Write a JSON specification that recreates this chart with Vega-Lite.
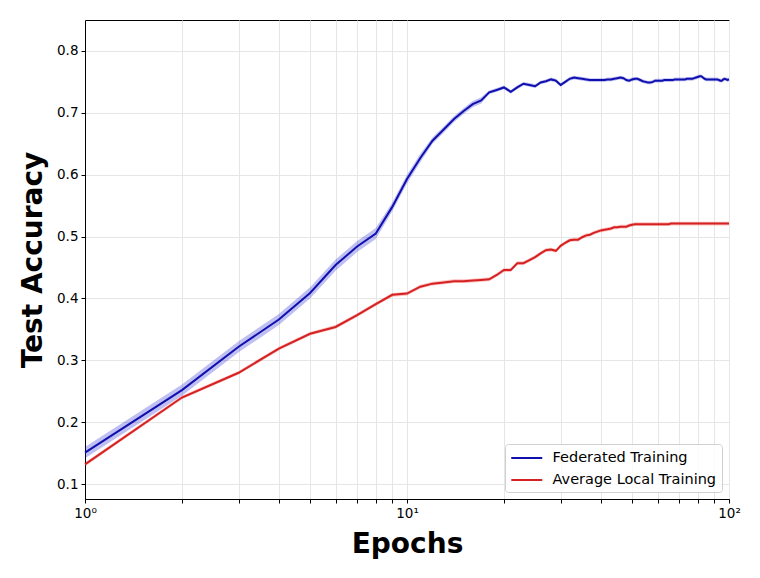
{
  "$schema": "https://vega.github.io/schema/vega-lite/v6.json",
  "autosize": {"type": "none"},
  "padding": {"left": 85, "top": 20, "right": 31, "bottom": 79},
  "width": 644,
  "height": 479,
  "background": "white",
  "config": {
    "view": {"stroke": "#000000", "strokeWidth": 1},
    "font": "DejaVu Sans",
    "axis": {
      "domainColor": "#000000",
      "tickColor": "#000000",
      "tickSize": 4,
      "labelColor": "#000000",
      "labelFont": "DejaVu Sans",
      "labelFontSize": 13.5,
      "titleFont": "DejaVu Sans",
      "titleFontSize": 28,
      "titleFontWeight": "bold",
      "titleColor": "#000000",
      "gridColor": "#e6e6e6",
      "gridWidth": 1
    }
  },
  "data": {
    "values": [
      {"e": 1, "f": 0.151, "fl": 0.142, "fh": 0.160, "a": 0.132, "al": 0.129, "ah": 0.135},
      {"e": 2, "f": 0.252, "fl": 0.243, "fh": 0.261, "a": 0.240, "al": 0.237, "ah": 0.243},
      {"e": 3, "f": 0.322, "fl": 0.313, "fh": 0.331, "a": 0.280, "al": 0.277, "ah": 0.283},
      {"e": 4, "f": 0.366, "fl": 0.357, "fh": 0.375, "a": 0.319, "al": 0.316, "ah": 0.322},
      {"e": 5, "f": 0.409, "fl": 0.400, "fh": 0.418, "a": 0.343, "al": 0.340, "ah": 0.346},
      {"e": 6, "f": 0.454, "fl": 0.445, "fh": 0.463, "a": 0.354, "al": 0.351, "ah": 0.357},
      {"e": 7, "f": 0.484, "fl": 0.475, "fh": 0.493, "a": 0.373, "al": 0.370, "ah": 0.376},
      {"e": 8, "f": 0.505, "fl": 0.496, "fh": 0.514, "a": 0.391, "al": 0.388, "ah": 0.394},
      {"e": 9, "f": 0.548, "fl": 0.541, "fh": 0.555, "a": 0.406, "al": 0.403, "ah": 0.409},
      {"e": 10, "f": 0.593, "fl": 0.586, "fh": 0.600, "a": 0.408, "al": 0.405, "ah": 0.411},
      {"e": 11, "f": 0.627, "fl": 0.620, "fh": 0.634, "a": 0.419, "al": 0.416, "ah": 0.422},
      {"e": 12, "f": 0.655, "fl": 0.650, "fh": 0.660, "a": 0.424, "al": 0.421, "ah": 0.427},
      {"e": 13, "f": 0.673, "fl": 0.668, "fh": 0.678, "a": 0.426, "al": 0.423, "ah": 0.429},
      {"e": 14, "f": 0.690, "fl": 0.685, "fh": 0.695, "a": 0.428, "al": 0.425, "ah": 0.431},
      {"e": 15, "f": 0.703, "fl": 0.698, "fh": 0.708, "a": 0.428, "al": 0.425, "ah": 0.431},
      {"e": 16, "f": 0.714, "fl": 0.709, "fh": 0.719, "a": 0.429, "al": 0.426, "ah": 0.432},
      {"e": 17, "f": 0.720, "fl": 0.715, "fh": 0.725, "a": 0.430, "al": 0.427, "ah": 0.433},
      {"e": 18, "f": 0.733, "fl": 0.730, "fh": 0.736, "a": 0.431, "al": 0.428, "ah": 0.434},
      {"e": 19, "f": 0.737, "fl": 0.734, "fh": 0.740, "a": 0.438, "al": 0.435, "ah": 0.441},
      {"e": 20, "f": 0.741, "fl": 0.738, "fh": 0.744, "a": 0.446, "al": 0.443, "ah": 0.449},
      {"e": 21, "f": 0.734, "fl": 0.731, "fh": 0.737, "a": 0.446, "al": 0.443, "ah": 0.449},
      {"e": 22, "f": 0.741, "fl": 0.738, "fh": 0.744, "a": 0.457, "al": 0.454, "ah": 0.460},
      {"e": 23, "f": 0.747, "fl": 0.744, "fh": 0.750, "a": 0.457, "al": 0.454, "ah": 0.460},
      {"e": 24, "f": 0.745, "fl": 0.742, "fh": 0.748, "a": 0.462, "al": 0.459, "ah": 0.465},
      {"e": 25, "f": 0.743, "fl": 0.740, "fh": 0.746, "a": 0.467, "al": 0.464, "ah": 0.470},
      {"e": 26, "f": 0.749, "fl": 0.746, "fh": 0.752, "a": 0.473, "al": 0.470, "ah": 0.476},
      {"e": 27, "f": 0.751, "fl": 0.748, "fh": 0.754, "a": 0.478, "al": 0.475, "ah": 0.481},
      {"e": 28, "f": 0.754, "fl": 0.751, "fh": 0.757, "a": 0.479, "al": 0.476, "ah": 0.482},
      {"e": 29, "f": 0.752, "fl": 0.749, "fh": 0.755, "a": 0.477, "al": 0.474, "ah": 0.480},
      {"e": 30, "f": 0.745, "fl": 0.742, "fh": 0.748, "a": 0.485, "al": 0.482, "ah": 0.488},
      {"e": 31, "f": 0.750, "fl": 0.747, "fh": 0.753, "a": 0.490, "al": 0.487, "ah": 0.493},
      {"e": 32, "f": 0.755, "fl": 0.752, "fh": 0.758, "a": 0.494, "al": 0.491, "ah": 0.497},
      {"e": 33, "f": 0.757, "fl": 0.754, "fh": 0.760, "a": 0.495, "al": 0.492, "ah": 0.498},
      {"e": 34, "f": 0.756, "fl": 0.753, "fh": 0.759, "a": 0.495, "al": 0.492, "ah": 0.498},
      {"e": 35, "f": 0.755, "fl": 0.752, "fh": 0.758, "a": 0.499, "al": 0.496, "ah": 0.502},
      {"e": 36, "f": 0.754, "fl": 0.751, "fh": 0.757, "a": 0.502, "al": 0.499, "ah": 0.505},
      {"e": 37, "f": 0.753, "fl": 0.750, "fh": 0.756, "a": 0.503, "al": 0.500, "ah": 0.506},
      {"e": 38, "f": 0.753, "fl": 0.750, "fh": 0.756, "a": 0.506, "al": 0.503, "ah": 0.509},
      {"e": 39, "f": 0.753, "fl": 0.750, "fh": 0.756, "a": 0.508, "al": 0.505, "ah": 0.511},
      {"e": 40, "f": 0.753, "fl": 0.750, "fh": 0.756, "a": 0.510, "al": 0.507, "ah": 0.513},
      {"e": 41, "f": 0.753, "fl": 0.750, "fh": 0.756, "a": 0.511, "al": 0.508, "ah": 0.514},
      {"e": 42, "f": 0.754, "fl": 0.751, "fh": 0.757, "a": 0.512, "al": 0.509, "ah": 0.515},
      {"e": 43, "f": 0.754, "fl": 0.751, "fh": 0.757, "a": 0.513, "al": 0.510, "ah": 0.516},
      {"e": 44, "f": 0.755, "fl": 0.752, "fh": 0.758, "a": 0.515, "al": 0.512, "ah": 0.518},
      {"e": 45, "f": 0.756, "fl": 0.753, "fh": 0.759, "a": 0.515, "al": 0.512, "ah": 0.518},
      {"e": 46, "f": 0.757, "fl": 0.754, "fh": 0.760, "a": 0.516, "al": 0.513, "ah": 0.519},
      {"e": 47, "f": 0.756, "fl": 0.753, "fh": 0.759, "a": 0.516, "al": 0.513, "ah": 0.519},
      {"e": 48, "f": 0.753, "fl": 0.750, "fh": 0.756, "a": 0.516, "al": 0.513, "ah": 0.519},
      {"e": 49, "f": 0.752, "fl": 0.749, "fh": 0.755, "a": 0.518, "al": 0.515, "ah": 0.521},
      {"e": 50, "f": 0.754, "fl": 0.751, "fh": 0.757, "a": 0.519, "al": 0.516, "ah": 0.522},
      {"e": 51, "f": 0.755, "fl": 0.752, "fh": 0.758, "a": 0.520, "al": 0.517, "ah": 0.523},
      {"e": 52, "f": 0.755, "fl": 0.752, "fh": 0.758, "a": 0.520, "al": 0.517, "ah": 0.523},
      {"e": 53, "f": 0.753, "fl": 0.750, "fh": 0.756, "a": 0.520, "al": 0.517, "ah": 0.523},
      {"e": 54, "f": 0.751, "fl": 0.748, "fh": 0.754, "a": 0.520, "al": 0.517, "ah": 0.523},
      {"e": 55, "f": 0.750, "fl": 0.747, "fh": 0.753, "a": 0.520, "al": 0.517, "ah": 0.523},
      {"e": 56, "f": 0.749, "fl": 0.746, "fh": 0.752, "a": 0.520, "al": 0.517, "ah": 0.523},
      {"e": 57, "f": 0.749, "fl": 0.746, "fh": 0.752, "a": 0.520, "al": 0.517, "ah": 0.523},
      {"e": 58, "f": 0.750, "fl": 0.747, "fh": 0.753, "a": 0.520, "al": 0.517, "ah": 0.523},
      {"e": 59, "f": 0.752, "fl": 0.749, "fh": 0.755, "a": 0.520, "al": 0.517, "ah": 0.523},
      {"e": 60, "f": 0.752, "fl": 0.749, "fh": 0.755, "a": 0.520, "al": 0.517, "ah": 0.523},
      {"e": 61, "f": 0.752, "fl": 0.749, "fh": 0.755, "a": 0.520, "al": 0.517, "ah": 0.523},
      {"e": 62, "f": 0.752, "fl": 0.749, "fh": 0.755, "a": 0.520, "al": 0.517, "ah": 0.523},
      {"e": 63, "f": 0.753, "fl": 0.750, "fh": 0.756, "a": 0.520, "al": 0.517, "ah": 0.523},
      {"e": 64, "f": 0.753, "fl": 0.750, "fh": 0.756, "a": 0.520, "al": 0.517, "ah": 0.523},
      {"e": 65, "f": 0.753, "fl": 0.750, "fh": 0.756, "a": 0.520, "al": 0.517, "ah": 0.523},
      {"e": 66, "f": 0.753, "fl": 0.750, "fh": 0.756, "a": 0.521, "al": 0.518, "ah": 0.524},
      {"e": 67, "f": 0.753, "fl": 0.750, "fh": 0.756, "a": 0.521, "al": 0.518, "ah": 0.524},
      {"e": 68, "f": 0.754, "fl": 0.751, "fh": 0.757, "a": 0.521, "al": 0.518, "ah": 0.524},
      {"e": 69, "f": 0.754, "fl": 0.751, "fh": 0.757, "a": 0.521, "al": 0.518, "ah": 0.524},
      {"e": 70, "f": 0.754, "fl": 0.751, "fh": 0.757, "a": 0.521, "al": 0.518, "ah": 0.524},
      {"e": 71, "f": 0.754, "fl": 0.751, "fh": 0.757, "a": 0.521, "al": 0.518, "ah": 0.524},
      {"e": 72, "f": 0.754, "fl": 0.751, "fh": 0.757, "a": 0.521, "al": 0.518, "ah": 0.524},
      {"e": 73, "f": 0.754, "fl": 0.751, "fh": 0.757, "a": 0.521, "al": 0.518, "ah": 0.524},
      {"e": 74, "f": 0.755, "fl": 0.752, "fh": 0.758, "a": 0.521, "al": 0.518, "ah": 0.524},
      {"e": 75, "f": 0.755, "fl": 0.752, "fh": 0.758, "a": 0.521, "al": 0.518, "ah": 0.524},
      {"e": 76, "f": 0.755, "fl": 0.752, "fh": 0.758, "a": 0.521, "al": 0.518, "ah": 0.524},
      {"e": 77, "f": 0.755, "fl": 0.752, "fh": 0.758, "a": 0.521, "al": 0.518, "ah": 0.524},
      {"e": 78, "f": 0.756, "fl": 0.753, "fh": 0.759, "a": 0.521, "al": 0.518, "ah": 0.524},
      {"e": 79, "f": 0.757, "fl": 0.754, "fh": 0.760, "a": 0.521, "al": 0.518, "ah": 0.524},
      {"e": 80, "f": 0.758, "fl": 0.755, "fh": 0.761, "a": 0.521, "al": 0.518, "ah": 0.524},
      {"e": 81, "f": 0.759, "fl": 0.756, "fh": 0.762, "a": 0.521, "al": 0.518, "ah": 0.524},
      {"e": 82, "f": 0.759, "fl": 0.756, "fh": 0.762, "a": 0.521, "al": 0.518, "ah": 0.524},
      {"e": 83, "f": 0.757, "fl": 0.754, "fh": 0.760, "a": 0.521, "al": 0.518, "ah": 0.524},
      {"e": 84, "f": 0.755, "fl": 0.752, "fh": 0.758, "a": 0.521, "al": 0.518, "ah": 0.524},
      {"e": 85, "f": 0.754, "fl": 0.751, "fh": 0.757, "a": 0.521, "al": 0.518, "ah": 0.524},
      {"e": 86, "f": 0.754, "fl": 0.751, "fh": 0.757, "a": 0.521, "al": 0.518, "ah": 0.524},
      {"e": 87, "f": 0.754, "fl": 0.751, "fh": 0.757, "a": 0.521, "al": 0.518, "ah": 0.524},
      {"e": 88, "f": 0.754, "fl": 0.751, "fh": 0.757, "a": 0.521, "al": 0.518, "ah": 0.524},
      {"e": 89, "f": 0.754, "fl": 0.751, "fh": 0.757, "a": 0.521, "al": 0.518, "ah": 0.524},
      {"e": 90, "f": 0.754, "fl": 0.751, "fh": 0.757, "a": 0.521, "al": 0.518, "ah": 0.524},
      {"e": 91, "f": 0.754, "fl": 0.751, "fh": 0.757, "a": 0.521, "al": 0.518, "ah": 0.524},
      {"e": 92, "f": 0.754, "fl": 0.751, "fh": 0.757, "a": 0.521, "al": 0.518, "ah": 0.524},
      {"e": 93, "f": 0.753, "fl": 0.750, "fh": 0.756, "a": 0.521, "al": 0.518, "ah": 0.524},
      {"e": 94, "f": 0.752, "fl": 0.749, "fh": 0.755, "a": 0.521, "al": 0.518, "ah": 0.524},
      {"e": 95, "f": 0.752, "fl": 0.749, "fh": 0.755, "a": 0.521, "al": 0.518, "ah": 0.524},
      {"e": 96, "f": 0.754, "fl": 0.751, "fh": 0.757, "a": 0.521, "al": 0.518, "ah": 0.524},
      {"e": 97, "f": 0.755, "fl": 0.752, "fh": 0.758, "a": 0.521, "al": 0.518, "ah": 0.524},
      {"e": 98, "f": 0.754, "fl": 0.751, "fh": 0.757, "a": 0.521, "al": 0.518, "ah": 0.524},
      {"e": 99, "f": 0.753, "fl": 0.750, "fh": 0.756, "a": 0.521, "al": 0.518, "ah": 0.524},
      {"e": 100, "f": 0.754, "fl": 0.751, "fh": 0.757, "a": 0.521, "al": 0.518, "ah": 0.524}
    ]
  },
  "encoding": {
    "x": {
      "field": "e",
      "type": "quantitative",
      "scale": {"type": "log", "domain": [1, 100], "nice": false},
      "axis": {
        "title": "Epochs",
        "values": [1, 2, 3, 4, 5, 6, 7, 8, 9, 10, 20, 30, 40, 50, 60, 70, 80, 90, 100],
        "labelExpr": "datum.value == 1 ? '10⁰' : datum.value == 10 ? '10¹' : datum.value == 100 ? '10²' : ''",
        "labelFlush": false,
        "labelOverlap": false,
        "labelPadding": 3,
        "titlePadding": 11,
        "grid": true
      }
    }
  },
  "layer": [
    {
      "mark": {"type": "area", "color": "#0000cd", "opacity": 0.25},
      "encoding": {
        "y": {
          "field": "fl",
          "type": "quantitative",
          "scale": {"domain": [0.076, 0.85], "nice": false, "zero": false},
          "axis": {
            "title": "Test Accuracy",
            "values": [0.1, 0.2, 0.3, 0.4, 0.5, 0.6, 0.7, 0.8],
            "format": ".1f",
            "labelPadding": 3,
            "titlePadding": 9,
            "grid": true
          }
        },
        "y2": {"field": "fh"}
      }
    },
    {
      "mark": {"type": "area", "color": "#ff0000", "opacity": 0.25},
      "encoding": {
        "y": {"field": "al", "type": "quantitative"},
        "y2": {"field": "ah"}
      }
    },
    {
      "transform": [{"fold": ["f", "a"], "as": ["series", "acc"]}],
      "mark": {"type": "line", "strokeWidth": 2},
      "encoding": {
        "y": {"field": "acc", "type": "quantitative"},
        "color": {
          "field": "series",
          "type": "nominal",
          "scale": {"domain": ["f", "a"], "range": ["#1010ae", "#d42222"]},
          "legend": {
            "title": null,
            "orient": "bottom-right",
            "offset": 7,
            "labelExpr": "datum.label == 'f' ? 'Federated Training' : 'Average Local Training'",
            "labelFont": "DejaVu Sans",
            "labelFontSize": 14.5,
            "labelLimit": 300,
            "labelColor": "#000000",
            "labelOffset": 24.5,
            "symbolType": "M-1,0H3",
            "symbolStrokeWidth": 2,
            "symbolSize": 240,
            "padding": 5,
            "rowPadding": 6,
            "fillColor": "rgba(255,255,255,0.8)",
            "strokeColor": "#d0d0d0",
            "cornerRadius": 3
          }
        }
      }
    }
  ]
}
